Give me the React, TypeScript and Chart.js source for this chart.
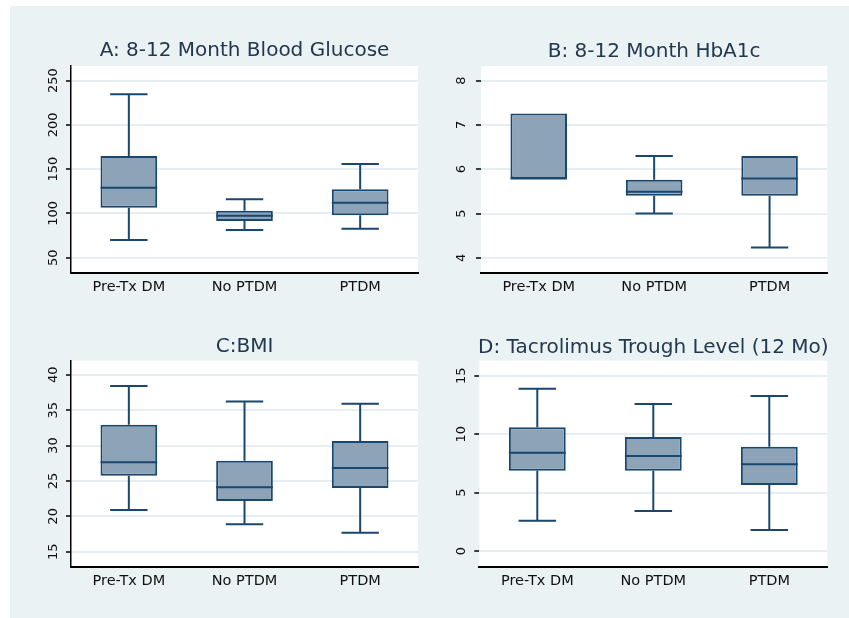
import { useEffect, useRef } from "react";
import { Chart, registerables } from "chart.js";

Chart.register(...registerables);

const categories = ["Pre-Tx DM", "No PTDM", "PTDM"];

// A: 8-12 Month Blood Glucose
const glucoseLow = [70.0, 81.3, 82.8];
const glucoseQ1 = [106.5, 91.5, 97.9];
const glucoseMedian = [129.1, 97.5, 112.1];
const glucoseQ3 = [164.9, 103.1, 127.3];
const glucoseHigh = [234.6, 116.0, 155.9];
const glucoseTicks = [50, 100, 150, 200, 250];

// B: 8-12 Month HbA1c
const hba1cLow = [5.79, 5.0, 4.23];
const hba1cQ1 = [5.79, 5.4, 5.4];
const hba1cMedian = [5.79, 5.49, 5.79];
const hba1cQ3 = [7.26, 5.76, 6.3];
const hba1cHigh = [7.26, 6.3, 6.3];
const hba1cTicks = [4, 5, 6, 7, 8];

// C: BMI
const bmiLow = [20.9, 18.9, 17.7];
const bmiQ1 = [25.75, 22.17, 24.0];
const bmiMedian = [27.65, 24.11, 26.84];
const bmiQ3 = [32.93, 27.87, 30.66];
const bmiHigh = [38.44, 36.22, 35.9];
const bmiTicks = [15, 20, 25, 30, 35, 40];

// D: Tacrolimus Trough Level (12 Mo)
const tacroLow = [2.59, 3.42, 1.8];
const tacroQ1 = [6.87, 6.87, 5.65];
const tacroMedian = [8.41, 8.13, 7.42];
const tacroQ3 = [10.58, 9.75, 8.92];
const tacroHigh = [13.89, 12.58, 13.26];
const tacroTicks = [0, 5, 10, 15];

const W = 849;
const H = 618;
const NAVY = "#1A476F";
const FILL = "#8DA3B7";
const GRID = "#E6EEF1";
const BG = "#EAF2F3";
const FONT = "'DejaVu Sans', sans-serif";

type Panel = {
  title: string;
  low: number[];
  q1: number[];
  med: number[];
  q3: number[];
  high: number[];
  ticks: number[];
  min: number;
  max: number;
  area: { left: number; top: number; right: number; bottom: number };
  titleY: number;
  labelX: number;
  yLine: boolean;
};

const panels: Panel[] = [
  {
    title: "A: 8-12 Month Blood Glucose",
    low: glucoseLow, q1: glucoseQ1, med: glucoseMedian, q3: glucoseQ3, high: glucoseHigh,
    ticks: glucoseTicks, min: 32.4, max: 266.6,
    area: { left: 71, top: 66, right: 418, bottom: 273.3 },
    titleY: 56, labelX: 56.5, yLine: true,
  },
  {
    title: "B: 8-12 Month HbA1c",
    low: hba1cLow, q1: hba1cQ1, med: hba1cMedian, q3: hba1cQ3, high: hba1cHigh,
    ticks: hba1cTicks, min: 3.65, max: 8.33,
    area: { left: 481, top: 66, right: 827.3, bottom: 273.3 },
    titleY: 56.5, labelX: 465, yLine: false,
  },
  {
    title: "C:BMI",
    low: bmiLow, q1: bmiQ1, med: bmiMedian, q3: bmiQ3, high: bmiHigh,
    ticks: bmiTicks, min: 12.8, max: 42.0,
    area: { left: 71, top: 360.7, right: 418, bottom: 567.3 },
    titleY: 352, labelX: 56.5, yLine: true,
  },
  {
    title: "D: Tacrolimus Trough Level (12 Mo)",
    low: tacroLow, q1: tacroQ1, med: tacroMedian, q3: tacroQ3, high: tacroHigh,
    ticks: tacroTicks, min: -1.39, max: 16.28,
    area: { left: 479.3, top: 360.7, right: 827.3, bottom: 567.3 },
    titleY: 353, labelX: 465, yLine: false,
  },
];

function makePlugin(p: Panel) {
  return {
    id: "boxplotExtras",
    beforeDatasetsDraw(chart: any) {
      const { ctx, chartArea } = chart;
      ctx.save();
      // nothing: plot background drawn in beforeDraw
      ctx.restore();
    },
    beforeDraw(chart: any) {
      const { ctx, chartArea } = chart;
      ctx.save();
      ctx.fillStyle = "#ffffff";
      ctx.fillRect(chartArea.left, chartArea.top, chartArea.right - chartArea.left, chartArea.bottom - chartArea.top);
      ctx.restore();
    },
    afterDatasetsDraw(chart: any) {
      const { ctx } = chart;
      const xs = chart.scales.x;
      const ys = chart.scales.y;
      const meta = chart.getDatasetMeta(0);
      ctx.save();
      ctx.strokeStyle = NAVY;
      ctx.lineWidth = 2;
      ctx.lineCap = "butt";
      for (let i = 0; i < categories.length; i++) {
        const x = xs.getPixelForValue(i);
        const bw = meta.data[i].width;
        const cap = bw * 0.33;
        const yq1 = ys.getPixelForValue(p.q1[i]);
        const yq3 = ys.getPixelForValue(p.q3[i]);
        const ylo = ys.getPixelForValue(p.low[i]);
        const yhi = ys.getPixelForValue(p.high[i]);
        const ym = ys.getPixelForValue(p.med[i]);
        ctx.beginPath();
        if (p.high[i] > p.q3[i]) {
          ctx.moveTo(x, yq3);
          ctx.lineTo(x, yhi);
          ctx.moveTo(x - cap, yhi);
          ctx.lineTo(x + cap, yhi);
        }
        if (p.low[i] < p.q1[i]) {
          ctx.moveTo(x, yq1);
          ctx.lineTo(x, ylo);
          ctx.moveTo(x - cap, ylo);
          ctx.lineTo(x + cap, ylo);
        }
        ctx.moveTo(x - bw / 2, ym);
        ctx.lineTo(x + bw / 2, ym);
        ctx.stroke();
      }
      ctx.restore();
    },
    afterDraw(chart: any) {
      const { ctx, chartArea } = chart;
      const ys = chart.scales.y;
      ctx.save();
      // title
      ctx.fillStyle = "#22384F";
      ctx.font = `20px ${FONT}`;
      ctx.textAlign = "center";
      ctx.textBaseline = "alphabetic";
      ctx.fillText(p.title, (chartArea.left + chartArea.right) / 2, p.titleY);
      // rotated y tick labels
      ctx.fillStyle = "#111111";
      ctx.font = `13px ${FONT}`;
      for (const v of p.ticks) {
        const y = ys.getPixelForValue(v);
        ctx.save();
        ctx.translate(p.labelX, y);
        ctx.rotate(-Math.PI / 2);
        ctx.textAlign = "center";
        ctx.textBaseline = "alphabetic";
        ctx.fillText(String(v), 0, 0);
        ctx.restore();
      }
      ctx.restore();
    },
  };
}

function PanelChart({ panel }: { panel: Panel }) {
  const ref = useRef<HTMLCanvasElement | null>(null);
  useEffect(() => {
    if (!ref.current) return;
    const a = panel.area;
    const chart = new Chart(ref.current, {
      type: "bar",
      data: {
        labels: categories,
        datasets: [
          {
            data: panel.q1.map((v, i) => [v, panel.q3[i]]) as any,
            backgroundColor: FILL,
            borderColor: NAVY,
            borderWidth: 2,
            borderSkipped: false,
            barPercentage: 0.49,
            categoryPercentage: 1,
          },
        ],
      },
      options: {
        responsive: false,
        animation: false,
        events: [],
        layout: { padding: { left: 0, top: a.top, right: W - a.right, bottom: 0 } },
        plugins: { legend: { display: false }, tooltip: { enabled: false }, title: { display: false } },
        scales: {
          x: {
            afterFit: (s: any) => { s.height = H - a.bottom; },
            grid: { display: false, drawTicks: false },
            border: { display: true, color: "#000000", width: 2 },
            ticks: { font: { family: FONT, size: 14.5 }, color: "#111111", padding: 5, autoSkip: false, maxRotation: 0 },
          },
          y: {
            min: panel.min,
            max: panel.max,
            afterBuildTicks: (s: any) => { s.ticks = panel.ticks.map((v) => ({ value: v })); },
            afterFit: (s: any) => { s.width = a.left; },
            ticks: { display: false },
            grid: { color: GRID, lineWidth: 2, drawTicks: true, tickLength: 5, tickColor: "#000000", tickWidth: 1.5 },
            border: { display: panel.yLine, color: "#000000", width: 1.5 },
          },
        },
      },
      plugins: [makePlugin(panel)],
    } as any);
    return () => chart.destroy();
  }, [panel]);
  return (
    <canvas
      ref={ref}
      width={W}
      height={H}
      style={{ position: "absolute", left: 0, top: 0, width: W, height: H }}
    />
  );
}

export default function App() {
  return (
    <div style={{ position: "fixed", left: 0, top: 0, width: W, height: H, background: "#ffffff", overflow: "hidden" }}>
      <div style={{ position: "absolute", left: 10, top: 6, width: W - 10, height: H - 6, background: BG }} />
      {panels.map((p, i) => (
        <PanelChart key={i} panel={p} />
      ))}
    </div>
  );
}
